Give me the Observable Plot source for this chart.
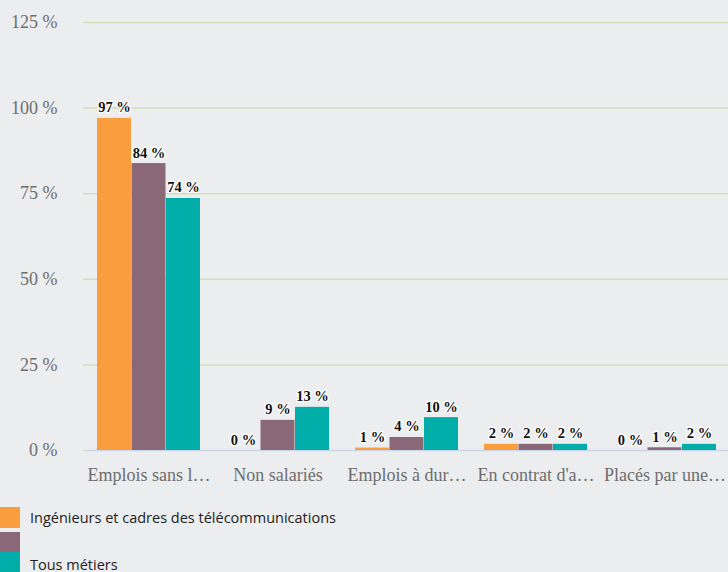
<!DOCTYPE html>
<html>
<head>
<meta charset="utf-8">
<script src="https://cdn.jsdelivr.net/npm/d3@7"></script>
<script src="https://cdn.jsdelivr.net/npm/@observablehq/plot@0.6"></script>
<style>
  html, body { margin: 0; padding: 0; background: #ECEDEF; width: 728px; height: 572px; overflow: hidden; }
  #chart svg { display: block; }
  #legend { font-family: "Open Sans", sans-serif; font-size: 14.5px; color: #222; margin-top: 12px; }
  .item { display: flex; align-items: center; }
  .sw { width: 20px; flex: none; margin-right: 10px; }
</style>
</head>
<body>
<div id="chart"></div>
<div id="legend"></div>
<script>
const categories = ["Emplois sans l…", "Non salariés", "Emplois à dur…", "En contrat d'a…", "Placés par une…"];
const series = ["Ingénieurs et cadres des télécommunications", "", "Tous métiers"];
const colors = ["#F99D3E", "#8A6878", "#00ADA8"];
const ingenieurs = [97, 0, 0.7, 1.8, 0];
const serie2 = [83.8, 8.8, 3.8, 1.8, 0.8];
const tousMetiers = [73.6, 12.6, 9.6, 1.8, 1.8];
const yTicks = [0, 25, 50, 75, 100, 125];

const values = [ingenieurs, serie2, tousMetiers];
const tables = values.map((vals, s) => categories.map((c, i) => ({category: c, series: series[s], value: vals[i]})));

const x0 = 83, x1 = 730, pIn = 0.2, pOut = 0.1;
const step = (x1 - x0) / (categories.length - pIn + 2 * pOut);
const third = step * (1 - pIn) / 3;

const marks = [
  Plot.ruleY(yTicks.filter(d => d > 0), {stroke: "#D4DEB8", strokeWidth: 1.5}),
  Plot.ruleY([0], {stroke: "#CCD6EB", strokeWidth: 1.5})
];
tables.forEach((t, s) => {
  marks.push(Plot.barY(t, {x: "category", y: "value", fill: colors[s], insetLeft: s * third, insetRight: (2 - s) * third}));
});
tables.forEach((t, s) => {
  marks.push(Plot.text(t, {x: "category", y: "value", text: d => Math.round(d.value) + " %", dx: (s - 1) * third, dy: -6, lineAnchor: "bottom", fontWeight: "bold", fontSize: 14.5, fill: "#111", stroke: "white", strokeWidth: 2.5}));
});

const chart = Plot.plot({
  width: 728, height: 495,
  marginLeft: 83, marginRight: 0, marginTop: 22, marginBottom: 45,
  style: {background: "transparent", fontFamily: "Liberation Serif", fontSize: "18px", color: "#6e6e6e", overflow: "visible"},
  x: {domain: categories, range: [x0, x1], paddingInner: pIn, paddingOuter: pOut, label: null, tickSize: 0, tickPadding: 18},
  y: {domain: [0, 125], ticks: yTicks, tickFormat: d => d + " %", label: null, tickSize: 0, tickPadding: 26},
  marks
});
document.getElementById("chart").appendChild(chart);

const legend = document.getElementById("legend");
const heights = [21, 20, 20];
const gaps = [4, 0, 0];
series.forEach((name, s) => {
  const item = document.createElement("div");
  item.className = "item";
  item.style.height = heights[s] + "px";
  item.style.marginBottom = gaps[s] + "px";
  const sw = document.createElement("div");
  sw.className = "sw";
  sw.style.height = heights[s] + "px";
  sw.style.background = colors[s];
  const lab = document.createElement("span");
  lab.textContent = name;
  if (s === 2) lab.style.transform = "translateY(2px)";
  item.appendChild(sw);
  item.appendChild(lab);
  legend.appendChild(item);
});
</script>
</body>
</html>
